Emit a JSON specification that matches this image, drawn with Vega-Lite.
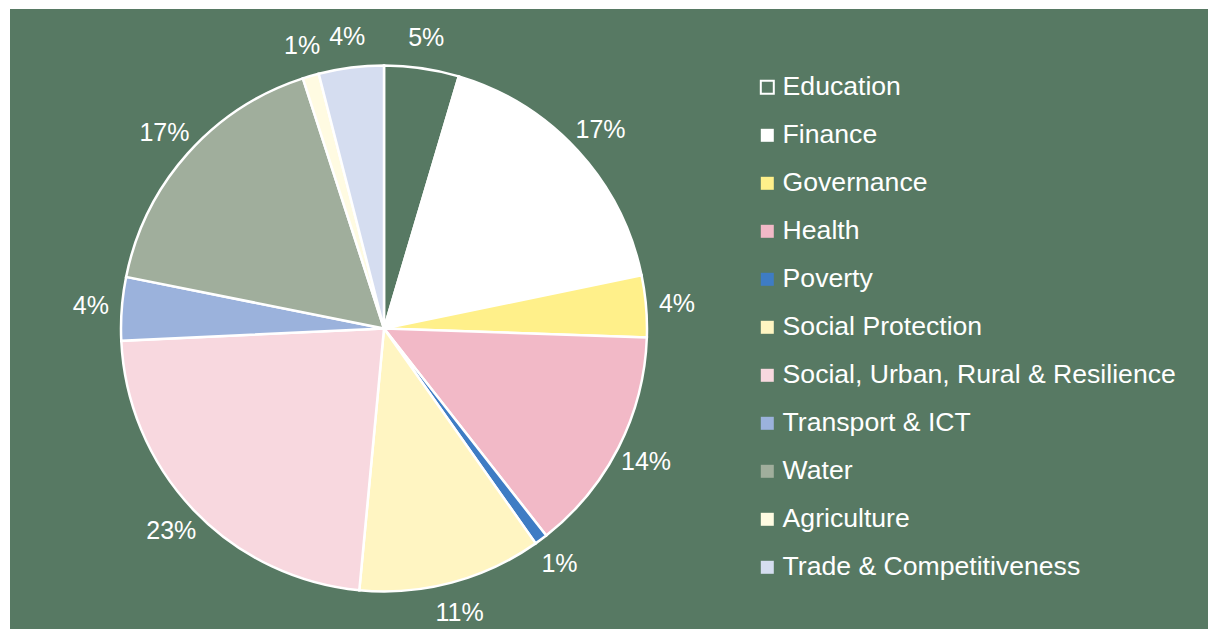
{
  "$schema": "https://vega.github.io/schema/vega-lite/v6.json",
  "autosize": {"type": "none"},
  "padding": {"left": 10, "top": 9, "right": 1, "bottom": 0},
  "background": "white",
  "width": 1198,
  "height": 620,
  "config": {"view": {"stroke": null}, "font": "Liberation Sans"},
  "data": {
    "values": [
      {"idx": 1, "category": "Education", "value": 4.6, "label": "5%"},
      {"idx": 2, "category": "Finance", "value": 17.2, "label": "17%"},
      {"idx": 3, "category": "Governance", "value": 3.8, "label": "4%"},
      {"idx": 4, "category": "Health", "value": 13.9, "label": "14%"},
      {"idx": 5, "category": "Poverty", "value": 0.8, "label": "1%"},
      {"idx": 6, "category": "Social Protection", "value": 11.3, "label": "11%"},
      {"idx": 7, "category": "Social, Urban, Rural & Resilience", "value": 22.8, "label": "23%"},
      {"idx": 8, "category": "Transport & ICT", "value": 3.9, "label": "4%"},
      {"idx": 9, "category": "Water", "value": 16.9, "label": "17%"},
      {"idx": 10, "category": "Agriculture", "value": 1.0, "label": "1%"},
      {"idx": 11, "category": "Trade & Competitiveness", "value": 4.0, "label": "4%"}
    ]
  },
  "layer": [
    {
      "data": {"values": [{"panel": "background"}]},
      "mark": {"type": "rect", "fill": "#577963", "stroke": null},
      "encoding": {}
    },
    {
      "mark": {"type": "arc", "outerRadius": 263, "stroke": "white", "strokeWidth": 2.5, "xOffset": -225, "yOffset": 9.5},
      "encoding": {
        "theta": {"field": "value", "type": "quantitative", "stack": true},
        "order": {"field": "idx", "type": "quantitative"},
        "color": {
          "field": "category",
          "type": "nominal",
          "scale": {
            "domain": ["Education", "Finance", "Governance", "Health", "Poverty", "Social Protection", "Social, Urban, Rural & Resilience", "Transport & ICT", "Water", "Agriculture", "Trade & Competitiveness"],
            "range": ["#577963", "#ffffff", "#fff08a", "#f2b9c7", "#3e7cc4", "#fff5c2", "#f8d8df", "#9bb2dc", "#a0ae9c", "#fffbe2", "#d5ddf0"]
          },
          "legend": {
            "title": null,
            "orient": "none",
            "legendX": 744,
            "legendY": 65,
            "padding": 0,
            "symbolType": "square",
            "symbolSize": 169,
            "symbolStrokeColor": "white",
            "symbolStrokeWidth": 0,
            "symbolOpacity": 1,
            "labelFont": "Liberation Sans",
            "labelFontSize": 26.6,
            "labelColor": "white",
            "labelOffset": 2,
            "labelLimit": 500,
            "rowPadding": 21,
            "encode": {
              "symbols": {
                "update": {
                  "strokeWidth": {"signal": "datum.value === 'Education' ? 2 : 0"}
                }
              }
            }
          }
        }
      }
    },
    {
      "mark": {"type": "text", "radius": 294, "fill": "white", "fontSize": 25, "baseline": "middle", "align": "center", "xOffset": -225, "yOffset": 9.5},
      "encoding": {
        "theta": {"field": "value", "type": "quantitative", "stack": true},
        "order": {"field": "idx", "type": "quantitative"},
        "text": {"field": "label", "type": "nominal"}
      }
    }
  ]
}
